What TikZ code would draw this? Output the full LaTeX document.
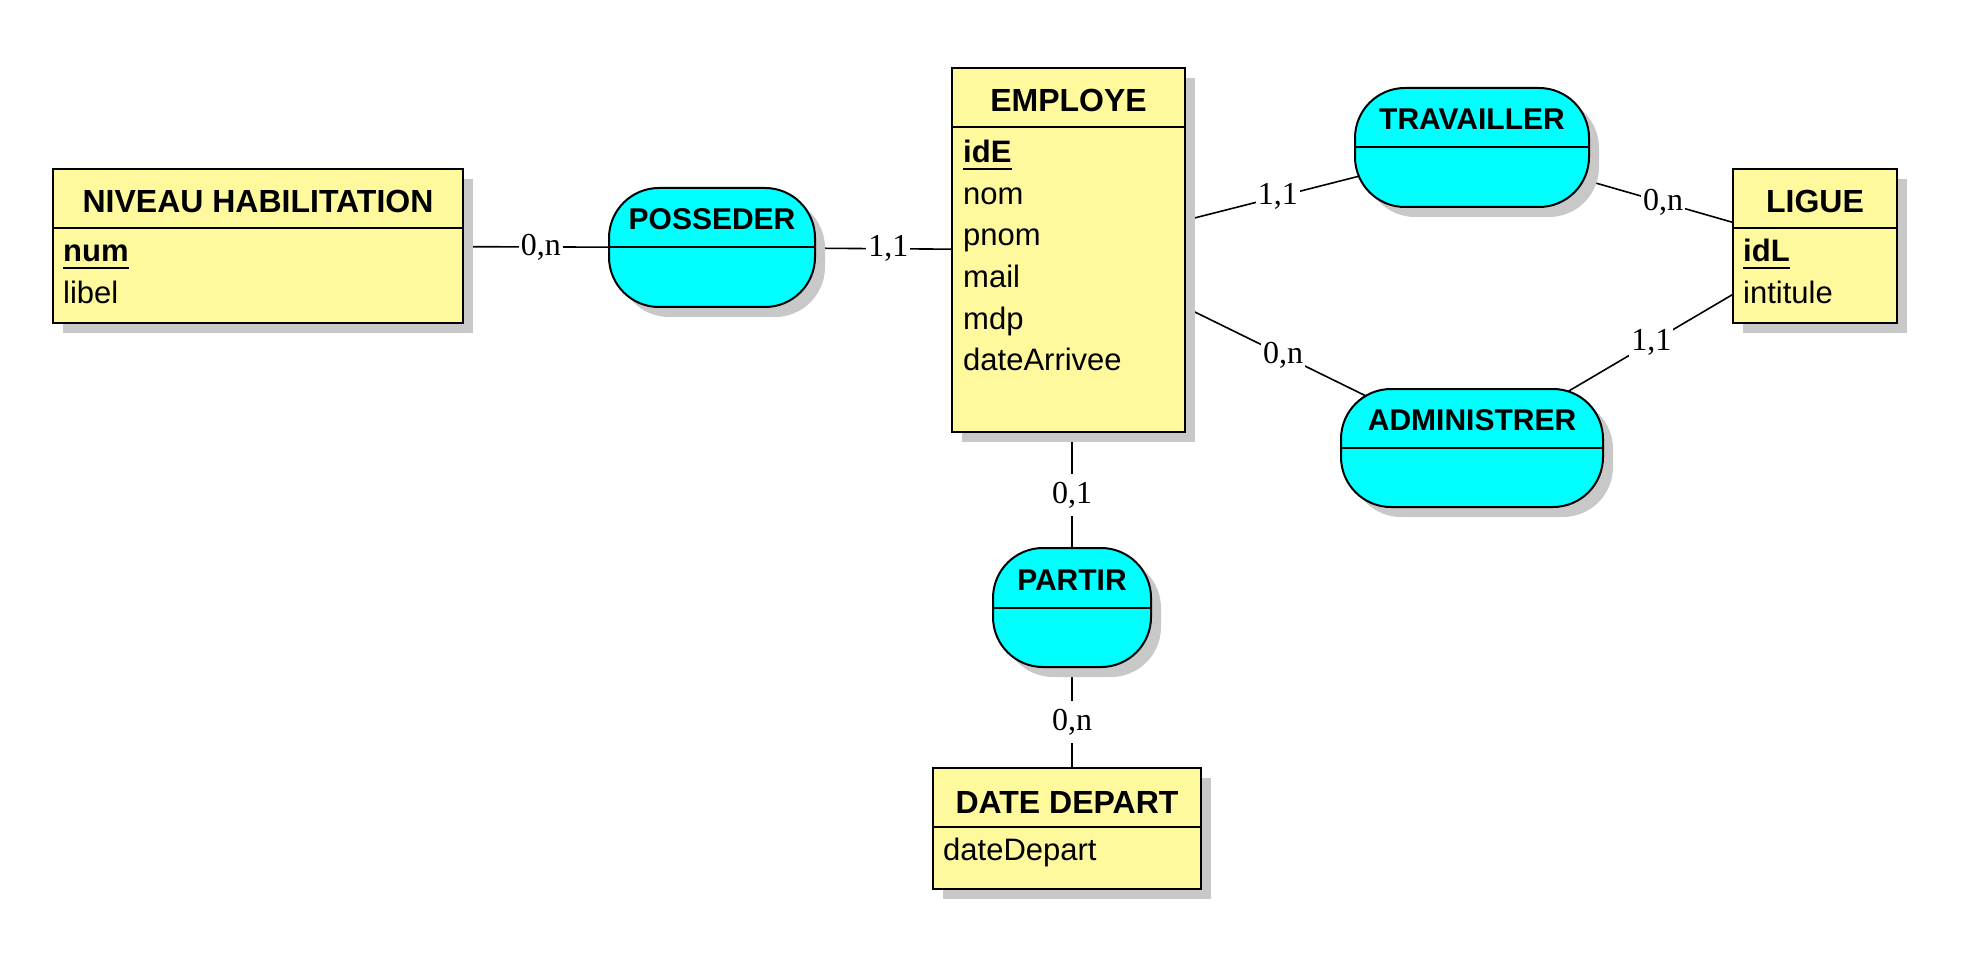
\documentclass[tikz,border=0pt]{standalone}
\usepackage{fontspec}
\setmainfont{Liberation Sans}
\newfontfamily\cardfont{Liberation Serif}
\usetikzlibrary{shadows}
\definecolor{entyellow}{RGB}{255,249,158}
\definecolor{relcyan}{RGB}{0,255,255}
\definecolor{shgray}{RGB}{200,200,200}
\pgfdeclarelayer{bg}
\pgfsetlayers{bg,main}
\begin{document}
\begin{tikzpicture}[x=1pt,y=-1pt,
  boxshadow/.style={drop shadow={shadow xshift=10pt,shadow yshift=-10pt,fill=shgray,opacity=1}},
  entity/.style={draw=black,line width=2pt,fill=entyellow,inner sep=0pt,boxshadow},
  relation/.style={draw=black,line width=2pt,fill=relcyan,inner sep=0pt,rounded corners=50pt,boxshadow},
  sepline/.style={line width=2pt,draw=black},
  hdr/.style={inner sep=0pt,anchor=base,font=\fontsize{32pt}{38pt}\selectfont\bfseries},
  rtext/.style={inner sep=0pt,anchor=base,font=\fontsize{30pt}{36pt}\selectfont\bfseries},
  attr/.style={inner sep=0pt,anchor=base west,font=\fontsize{31pt}{37pt}\selectfont},
  conn/.style={line width=1.6pt,draw=black},
  cardlbl/.style={fill=white,inner xsep=2pt,inner ysep=8pt,font=\cardfont\fontsize{32pt}{38pt}\selectfont}
]
\useasboundingbox (0,0) rectangle (1970,968);

% ---------- entities ----------
\node[entity,minimum width=410pt,minimum height=154pt] (nh) at (258,246) {};
\draw[sepline] ([yshift=-60pt]nh.north west) -- ([yshift=-60pt]nh.north east);
\node[hdr] (nhT) at (258,213) {NIVEAU HABILITATION};
\node[attr] (nhA1) at (63,262) {\textbf{num}};
\draw[line width=2pt] ([yshift=-6pt]nhA1.base west) -- ([yshift=-6pt]nhA1.base east);
\node[attr] (nhA2) at (63,303) {libel};

\node[entity,minimum width=233pt,minimum height=364pt] (emp) at (1068.5,250) {};
\draw[sepline] ([yshift=-60pt]emp.north west) -- ([yshift=-60pt]emp.north east);
\node[hdr] (empT) at (1068.5,112) {EMPLOYE};
\node[attr] (empA1) at (963,163) {\textbf{idE}};
\draw[line width=2pt] ([yshift=-6pt]empA1.base west) -- ([yshift=-6pt]empA1.base east);
\node[attr] (empA2) at (963,204.5) {nom};
\node[attr] (empA3) at (963,246) {pnom};
\node[attr] (empA4) at (963,287.5) {mail};
\node[attr] (empA5) at (963,329) {mdp};
\node[attr] (empA6) at (963,370.5) {dateArrivee};

\node[entity,minimum width=164pt,minimum height=154pt] (lig) at (1815,246) {};
\draw[sepline] ([yshift=-60pt]lig.north west) -- ([yshift=-60pt]lig.north east);
\node[hdr] (ligT) at (1815,213) {LIGUE};
\node[attr] (ligA1) at (1743,262) {\textbf{idL}};
\draw[line width=2pt] ([yshift=-6pt]ligA1.base west) -- ([yshift=-6pt]ligA1.base east);
\node[attr] (ligA2) at (1743,303) {intitule};

\node[entity,minimum width=268pt,minimum height=121pt] (dd) at (1067,828.5) {};
\draw[sepline] ([yshift=-60pt]dd.north west) -- ([yshift=-60pt]dd.north east);
\node[hdr] (ddT) at (1067,813) {DATE DEPART};
\node[attr] (ddA1) at (943,860) {dateDepart};

% ---------- relations ----------
\node[relation,minimum width=206pt,minimum height=119pt] (pos) at (712,247.5) {};
\draw[sepline] (pos.west) -- (pos.east);
\node[rtext] (posT) at (712,230) {POSSEDER};

\node[relation,minimum width=234pt,minimum height=119pt] (trav) at (1472,147.5) {};
\draw[sepline] (trav.west) -- (trav.east);
\node[rtext] (travT) at (1472,130) {TRAVAILLER};

\node[relation,minimum width=262pt,minimum height=118pt] (adm) at (1472,448) {};
\draw[sepline] (adm.west) -- (adm.east);
\node[rtext] (admT) at (1472,430) {ADMINISTRER};

\node[relation,minimum width=158pt,minimum height=119pt] (part) at (1072,607.5) {};
\draw[sepline] (part.west) -- (part.east);
\node[rtext] (partT) at (1072,590) {PARTIR};

% ---------- connectors (behind shapes and shadows) ----------
\begin{pgfonlayer}{bg}
\fill[white] (0,0) rectangle (1970,968);
\draw[conn] (nh.center) -- node[cardlbl,pos=0.623] {0,n} (pos.center);
\draw[conn] (pos.center) -- node[cardlbl,pos=0.495] {1,1} (emp.center);
\draw[conn] (emp.center) -- node[cardlbl,pos=0.519] {1,1} (trav.center);
\draw[conn] (trav.center) -- node[cardlbl,pos=0.557] {0,n} (lig.center);
\draw[conn] (emp.center) -- node[cardlbl,pos=0.532] {0,n} (adm.center);
\draw[conn] (adm.center) -- node[cardlbl,pos=0.523] {1,1} (lig.center);
\draw[conn] (part.center |- emp.center) -- node[cardlbl,pos=0.685] {0,1} (part.center);
\draw[conn] (part.center) -- node[cardlbl,pos=0.717] {0,n} (part.center |- dd.north);
\end{pgfonlayer}
\end{tikzpicture}
\end{document}
